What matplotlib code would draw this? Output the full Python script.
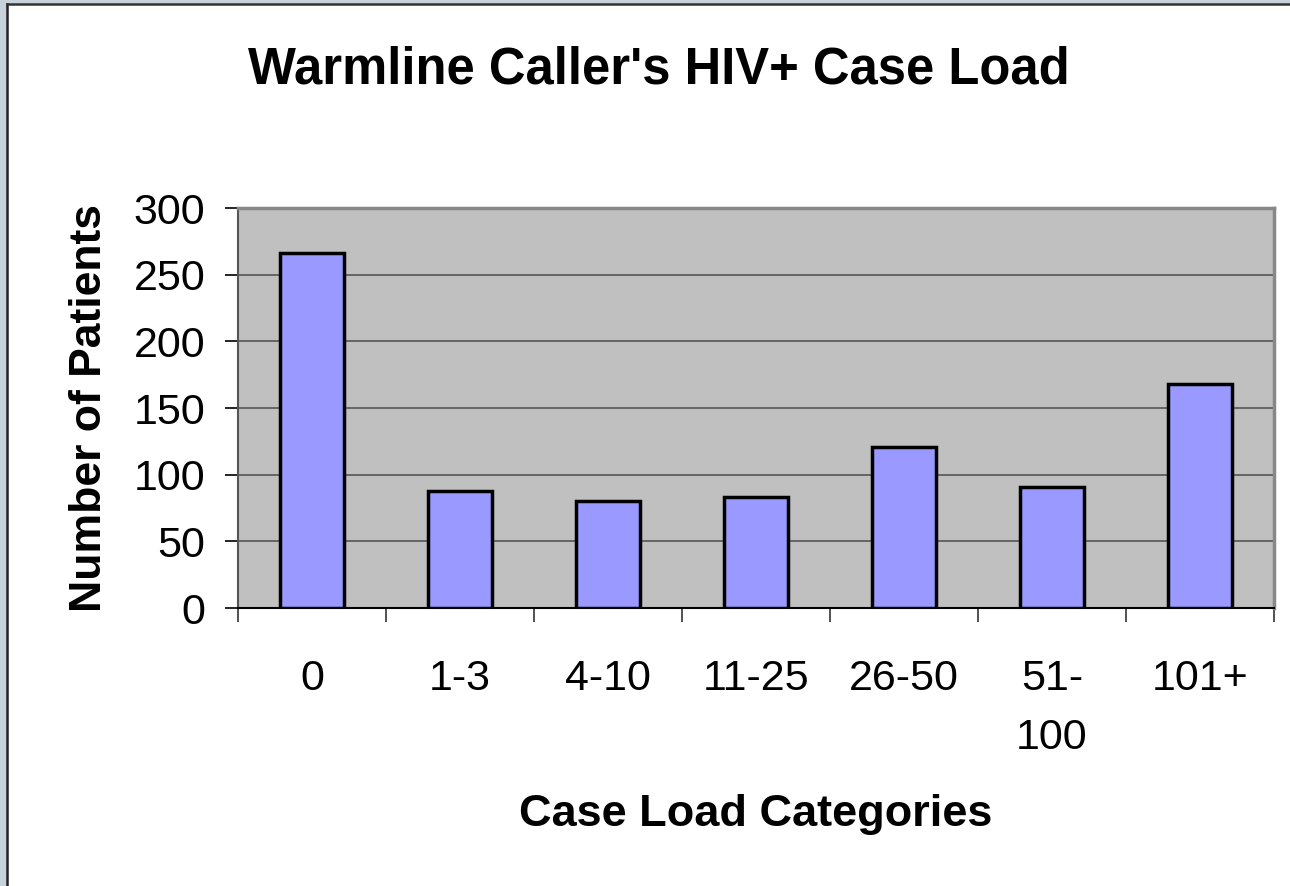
import matplotlib
matplotlib.use("Agg")
import matplotlib.pyplot as plt
from matplotlib.patches import Rectangle
from matplotlib.lines import Line2D

categories = ["0", "1-3", "4-10", "11-25", "26-50", "51-\n100", "101+"]
patients = [266, 88, 80, 83, 121, 91, 168]
yticks = [0, 50, 100, 150, 200, 250, 300]

plt.rcParams['font.family'] = ['Liberation Sans', 'DejaVu Sans']

fig = plt.figure(figsize=(12.9, 8.86), dpi=100)
fig.patch.set_facecolor('#c8d2da')
# white panel with black border on left/top
fig.patches.append(Rectangle((7/1290, 0), 1, 1 - 4/886, transform=fig.transFigure,
                             facecolor='white', edgecolor='none', zorder=-5))
fig.lines.append(Line2D([7/1290, 7/1290], [0, 1 - 4/886], transform=fig.transFigure,
                        color='#222222', lw=1.8, zorder=-4))
fig.lines.append(Line2D([7/1290, 1], [1 - 4/886, 1 - 4/886], transform=fig.transFigure,
                        color='#333333', lw=1.8, zorder=-4))

ax = fig.add_axes([238/1290, 1 - 608/886, (1274-238)/1290, (608-208)/886])
ax.set_zorder(2)
ax.set_facecolor('#c0c0c0')
x = list(range(len(categories)))
ax.bar(x, patients, width=0.43, color='#9999ff', edgecolor='black', linewidth=2.5, zorder=3)

ax.set_xlim(-0.5, len(categories) - 0.5)
ax.set_ylim(0, 300)
ax.set_yticks(yticks)
ax.set_yticklabels([str(v) for v in yticks], fontsize=31)
ax.yaxis.grid(True, color='#555555', linewidth=1.2, zorder=1)
ax.set_axisbelow(True)
ax.tick_params(axis='y', direction='out', length=9.5, width=1.2, color='black', pad=14)

ax.set_xticks(x)
ax.set_xticklabels(categories, fontsize=31, linespacing=1.6, va='top')
ax.tick_params(axis='x', which='major', length=0, pad=37)
ax.set_xticks([i - 0.5 for i in range(len(categories) + 1)], minor=True)
ax.tick_params(axis='x', which='minor', direction='out', length=10, width=1.2, color='#333333')

for s in ['top', 'right']:
    ax.spines[s].set_color('#888888')
    ax.spines[s].set_linewidth(2.5)
ax.spines['left'].set_color('#555555')
ax.spines['left'].set_linewidth(1.5)
ax.spines['bottom'].set_color('black')
ax.spines['bottom'].set_linewidth(1.5)

ax.set_ylabel('Number of Patients', fontsize=32, fontweight='bold', labelpad=17)
ax.set_xlabel('Case Load Categories', fontsize=32.5, fontweight='bold', labelpad=26)
fig.text(659/1290, 1 - 70/886, "Warmline Caller's HIV+ Case Load", fontsize=36.5,
         fontweight='bold', ha='center', va='center')

fig.savefig('out.png', dpi=100, facecolor=fig.get_facecolor())
